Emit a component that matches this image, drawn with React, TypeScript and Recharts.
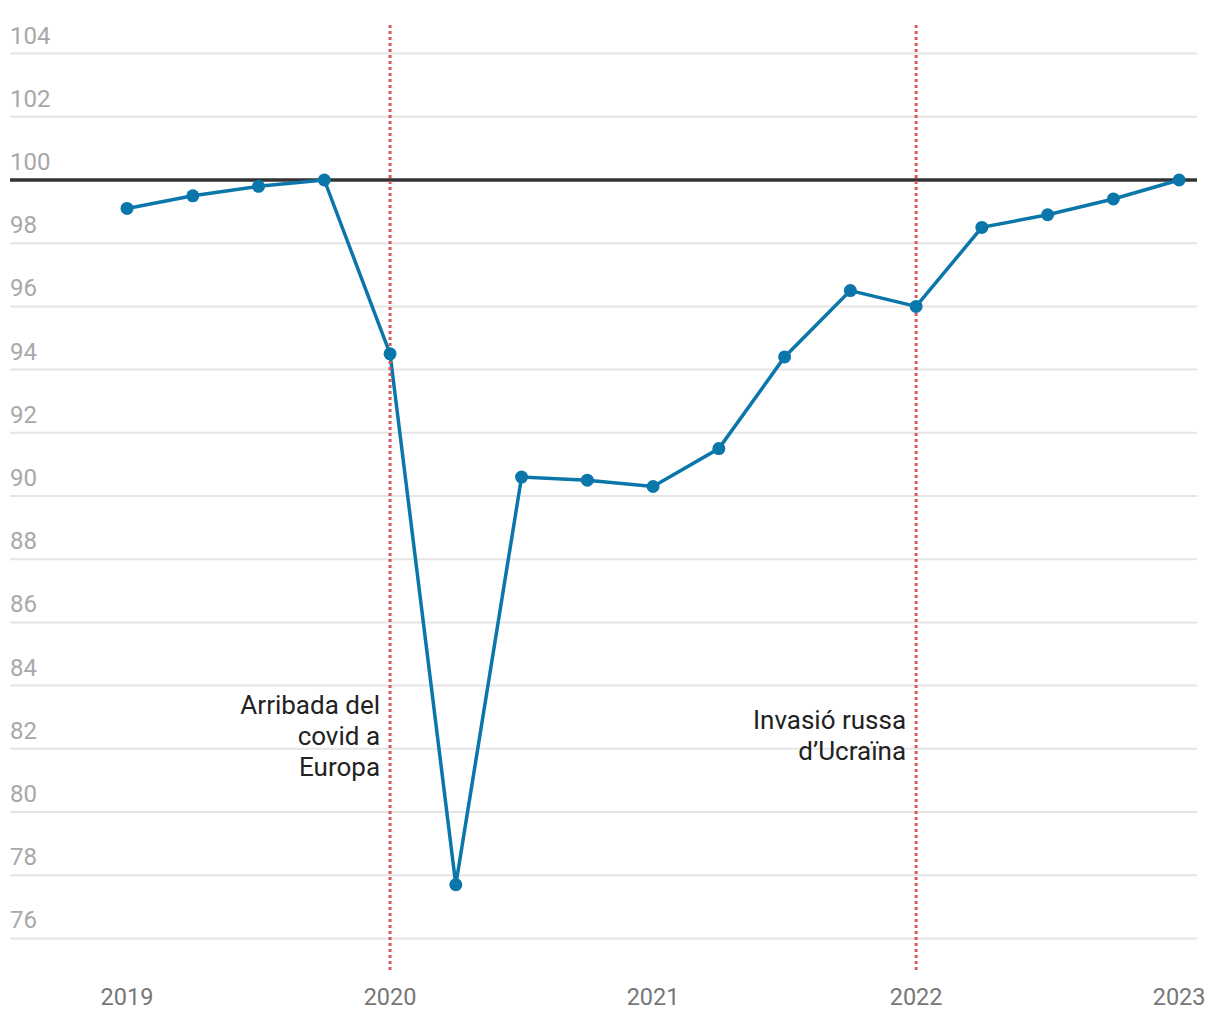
import { LineChart, Line, XAxis, YAxis, ReferenceLine } from 'recharts'

const quarters = [
  '2019 T1', '2019 T2', '2019 T3', '2019 T4',
  '2020 T1', '2020 T2', '2020 T3', '2020 T4',
  '2021 T1', '2021 T2', '2021 T3', '2021 T4',
  '2022 T1', '2022 T2', '2022 T3', '2022 T4',
  '2023 T1',
]
const index = [99.1, 99.5, 99.8, 100.0, 94.5, 77.7, 90.6, 90.5, 90.3, 91.5, 94.4, 96.5, 96.0, 98.5, 98.9, 99.4, 100.0]
const yearTicks = [2019, 2020, 2021, 2022, 2023]
const yTicks = [76, 78, 80, 82, 84, 86, 88, 90, 92, 94, 96, 98, 100, 102, 104]
const events = [
  { year: 2020, lines: ['Arribada del', 'covid a', 'Europa'], top: 706 },
  { year: 2022, lines: ['Invasió russa', 'd’Ucraïna'], top: 721 },
]

const data = quarters.map((q, i) => {
  const [y, t] = q.split(' T')
  return { label: q, t: Number(y) + (Number(t) - 1) / 4, value: index[i] }
})

const FONT = 'Roboto, "Noto Sans", sans-serif'

// y-axis values sit above their grid line, flush left
function GridLabel(props: { viewBox?: { x: number; y: number }; value?: number }) {
  const { viewBox, value } = props
  if (!viewBox) return null
  return (
    <text x={viewBox.x} y={viewBox.y - 10} textAnchor="start" fontSize={24} fill="#a8a8a8" fontFamily={FONT}>
      {value}
    </text>
  )
}

function EventLabel(props: { viewBox?: { x: number; y: number }; lines: string[]; top: number }) {
  const { viewBox, lines, top } = props
  if (!viewBox) return null
  return (
    <text x={viewBox.x - 10} y={top} textAnchor="end" fontSize={26} fill="#222" fontFamily={FONT}>
      {lines.map((l, i) => (
        <tspan key={i} x={viewBox.x - 10} dy={i === 0 ? 8 : 31}>{l}</tspan>
      ))}
    </text>
  )
}

export default function App() {
  return (
    <div style={{ position: 'absolute', left: 0, top: 0, background: '#fff' }}>
      <LineChart width={1220} height={1020} data={data} margin={{ top: 22, right: 23, bottom: 20, left: 10 }}>
        <XAxis
          dataKey="t"
          type="number"
          domain={[2018.555, 2023.068]}
          ticks={yearTicks}
          axisLine={false}
          tickLine={false}
          height={30}
          tick={{ fontSize: 23.5, fill: '#777', fontFamily: FONT }}
          tickMargin={12}
          interval={0}
        />
        <YAxis domain={[75, 105]} ticks={yTicks} hide />
        {yTicks.map((v) => (
          <ReferenceLine
            key={v}
            y={v}
            stroke="#e5e5e5"
            strokeWidth={2}
            zIndex={-100}
            label={<GridLabel value={v} />}
          />
        ))}
        <ReferenceLine y={100} stroke="#333" strokeWidth={3.5} zIndex={350} />
        <Line
          type="linear"
          dataKey="value"
          stroke="#0a76a9"
          strokeWidth={3.5}
          dot={{ r: 6.5, fill: '#0a76a9', stroke: 'none' }}
          activeDot={false}
          isAnimationActive={false}
        />
        {events.map((e) => (
          <ReferenceLine
            key={e.year}
            x={e.year}
            stroke="#d9595b"
            strokeWidth={3}
            strokeDasharray="3 3"
            zIndex={450}
            label={<EventLabel lines={e.lines} top={e.top} />}
          />
        ))}
      </LineChart>
    </div>
  )
}
